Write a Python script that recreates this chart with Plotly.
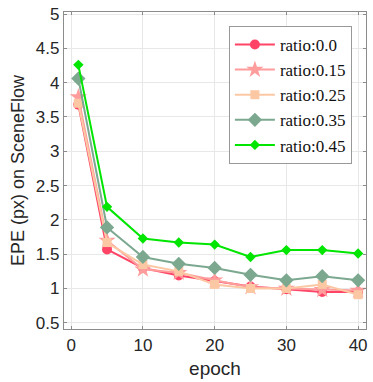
import plotly.graph_objects as go

epochs = [1, 5, 10, 15, 20, 25, 30, 35, 40]
ratio_00 = [3.68, 1.57, 1.30, 1.19, 1.11, 1.03, 0.99, 0.95, 0.95]
ratio_15 = [3.79, 1.70, 1.28, 1.23, 1.12, 1.02, 1.00, 0.98, 0.97]
ratio_25 = [3.70, 1.67, 1.35, 1.25, 1.06, 1.00, 1.00, 1.06, 0.91]
ratio_35 = [4.06, 1.89, 1.46, 1.36, 1.30, 1.20, 1.12, 1.18, 1.12]
ratio_45 = [4.26, 2.19, 1.73, 1.67, 1.64, 1.46, 1.56, 1.56, 1.51]

names = ["ratio:0.0", "ratio:0.15", "ratio:0.25", "ratio:0.35", "ratio:0.45"]
series = [ratio_00, ratio_15, ratio_25, ratio_35, ratio_45]
colors = ["#ff4466", "#ff9c9c", "#fcc8a4", "#7ba88f", "#00e600"]
symbols = ["circle", "star", "square", "diamond", "diamond"]
sizes = [10, 13, 9, 11, 8]

fig = go.Figure()
for n, s, c, sym, sz in zip(names, series, colors, symbols, sizes):
    fig.add_trace(go.Scatter(
        x=epochs, y=s, name=n, mode="lines+markers",
        line=dict(color=c, width=2),
        marker=dict(symbol=sym, size=sz, color=c, line=dict(width=0)),
    ))

axis_common = dict(
    showgrid=True, gridcolor="#e8e8e8", gridwidth=1,
    showline=True, linecolor="#8c8c8c", linewidth=1.3, mirror="ticks",
    ticks="inside", ticklen=3, tickcolor="#8c8c8c",
    zeroline=False,
    tickfont=dict(family="Liberation Sans, Arial", size=17, color="#262626"),
)

fig.update_layout(
    width=373, height=382,
    margin=dict(l=64, r=5, t=11, b=53),
    paper_bgcolor="white", plot_bgcolor="white",
    xaxis=dict(range=[-1, 41.1], tickvals=[0, 10, 20, 30, 40],
               title=dict(text="epoch", standoff=8,
                          font=dict(family="Liberation Sans, Arial", size=19, color="#262626")),
               **axis_common),
    yaxis=dict(range=[0.41, 5.03], tickvals=[0.5, 1, 1.5, 2, 2.5, 3, 3.5, 4, 4.5, 5],
               ticktext=["0.5", "1", "1.5", "2", "2.5", "3", "3.5", "4", "4.5", "5"],
               title=dict(text="EPE (px) on SceneFlow", standoff=6,
                          font=dict(family="Liberation Sans, Arial", size=18, color="#262626")),
               **axis_common),
    legend=dict(
        x=0.546, y=0.956, xanchor="left", yanchor="top",
        bordercolor="#999999", borderwidth=1, bgcolor="white",
        font=dict(family="Liberation Serif, Times New Roman", size=17, color="#111111"),
        itemwidth=40, tracegroupgap=0,
    ),
    showlegend=True,
)

fig.write_html("out.html")
